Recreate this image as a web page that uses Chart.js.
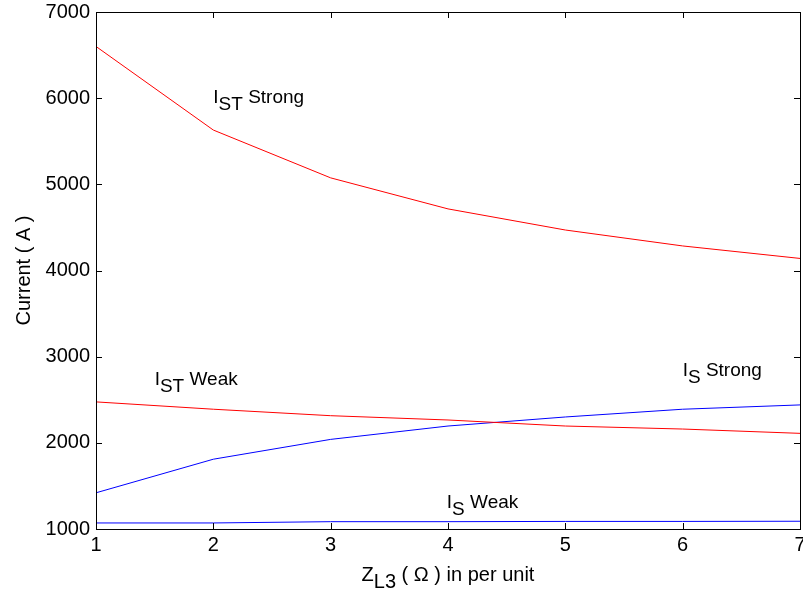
<!DOCTYPE html>
<html>
<head>
<meta charset="utf-8">
<script src="https://cdn.jsdelivr.net/npm/chart.js@4"></script>
<style>
  html, body { margin: 0; padding: 0; background: #fff; }
  #wrap { width: 803px; height: 593px; }
</style>
</head>
<body>
<div id="wrap"><canvas id="grafico" width="803" height="593"></canvas></div>
<script>
// dados
const zL3 = [1, 2, 3, 4, 5, 6, 7];
const istStrong = [6600, 5630, 5075, 4715, 4470, 4285, 4140];
const istWeak = [2475, 2390, 2315, 2265, 2195, 2160, 2110];
const isStrong = [1420, 1810, 2040, 2195, 2300, 2390, 2440];
const isWeak = [1070, 1070, 1085, 1085, 1088, 1088, 1090];
const yTicks = [1000, 2000, 3000, 4000, 5000, 6000, 7000];

// rótulos das curvas: [texto, subscrito, resto, x, y]
const rotulos = [
    ["I", "ST", " Strong", 2.0, 5945],
    ["I", "ST", " Weak", 1.5, 2671],
    ["I", "S", " Strong", 6.0, 2776],
    ["I", "S", " Weak", 3.99, 1244]
];

const FONTE = "Liberation Sans, Arial, sans-serif";

function textoSub(ctx, base, sub, resto, x, y, size) {
    ctx.font = size + "px " + FONTE;
    ctx.textAlign = "left";
    ctx.textBaseline = "alphabetic";
    ctx.fillText(base, x, y);
    let w = ctx.measureText(base).width;
    ctx.fillText(sub, x + w, y + size * 0.37);
    w += ctx.measureText(sub).width;
    ctx.fillText(resto, x + w, y);
    return w + ctx.measureText(resto).width;
}

const moldura = {
    id: "moldura",
    afterDraw(chart) {
        const ctx = chart.ctx;
        const a = chart.chartArea;
        const xs = chart.scales.x, ys = chart.scales.y;
        ctx.save();
        ctx.strokeStyle = "#000";
        ctx.lineWidth = 1;
        ctx.strokeRect(a.left + 0.5, a.top + 0.5, a.right - a.left, a.bottom - a.top);
        ctx.beginPath();
        zL3.forEach(v => {
            const px = Math.round(xs.getPixelForValue(v)) + 0.5;
            ctx.moveTo(px, a.bottom); ctx.lineTo(px, a.bottom - 6);
            ctx.moveTo(px, a.top); ctx.lineTo(px, a.top + 6);
        });
        yTicks.forEach(v => {
            const py = Math.round(ys.getPixelForValue(v)) + 0.5;
            ctx.moveTo(a.left, py); ctx.lineTo(a.left + 6, py);
            ctx.moveTo(a.right, py); ctx.lineTo(a.right - 6, py);
        });
        ctx.stroke();

        ctx.fillStyle = "#000";
        rotulos.forEach(r => {
            textoSub(ctx, r[0], r[1], r[2], xs.getPixelForValue(r[3]), ys.getPixelForValue(r[4]), 19);
        });

        // título do eixo x com subscrito
        ctx.font = "20px " + FONTE;
        const partes = ["Z", "L3", " ( \u03A9 ) in per unit"];
        let larg = 0;
        partes.forEach(p => larg += ctx.measureText(p).width);
        const cx = (a.left + a.right) / 2;
        textoSub(ctx, partes[0], partes[1], partes[2], cx - larg / 2, 581, 20);

        // título do eixo y
        ctx.save();
        ctx.translate(30, (a.top + a.bottom) / 2);
        ctx.rotate(-Math.PI / 2);
        ctx.textAlign = "center";
        ctx.textBaseline = "alphabetic";
        ctx.font = "20px " + FONTE;
        ctx.fillText("Current ( A )", 0, 0);
        ctx.restore();
        ctx.restore();
    }
};

function serie(nome, dados, cor) {
    return {
        label: nome,
        data: zL3.map((x, i) => ({ x: x, y: dados[i] })),
        borderColor: cor,
        borderWidth: 1,
        pointRadius: 0,
        fill: false,
        tension: 0
    };
}

const ctx = document.getElementById("grafico").getContext("2d");
const chart = new Chart(ctx, {
    type: "line",
    data: {
        datasets: [
            serie("IST Strong", istStrong, "#ff0000"),
            serie("IST Weak", istWeak, "#ff0000"),
            serie("IS Strong", isStrong, "#0000ff"),
            serie("IS Weak", isWeak, "#0000ff")
        ]
    },
    options: {
        responsive: false,
        animation: false,
        layout: { padding: { top: 12, right: 3, left: 0, bottom: 0 } },
        plugins: { legend: { display: false }, tooltip: { enabled: false } },
        scales: {
            x: {
                type: "linear",
                min: 1, max: 7,
                afterFit: s => { s.height = 64; s.paddingLeft = 0; s.paddingRight = 0; },
                afterBuildTicks: s => { s.ticks = zL3.map(v => ({ value: v })); },
                grid: { display: false, drawTicks: false },
                border: { display: false },
                ticks: { color: "#000", font: { family: FONTE, size: 20 }, padding: 4,
                         callback: v => String(v) }
            },
            y: {
                min: 1000, max: 7000,
                afterFit: s => { s.width = 96; s.paddingTop = 0; s.paddingBottom = 0; },
                afterBuildTicks: s => { s.ticks = yTicks.map(v => ({ value: v })); },
                grid: { display: false, drawTicks: false },
                border: { display: false },
                ticks: { color: "#000", font: { family: FONTE, size: 20 }, padding: 6,
                         callback: v => String(v) }
            }
        }
    },
    plugins: [moldura]
});
</script>
</body>
</html>
